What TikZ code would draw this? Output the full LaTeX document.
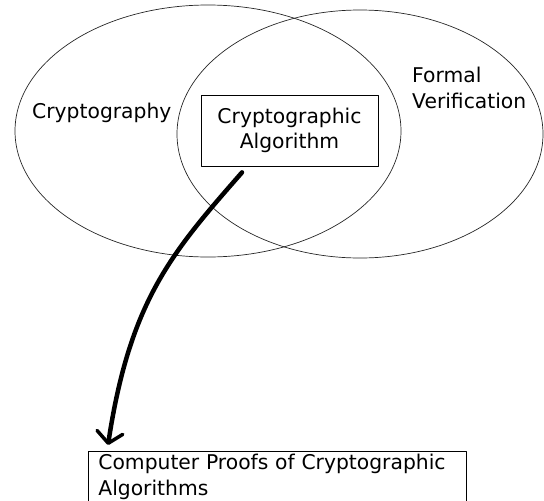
\documentclass[tikz,border=0pt]{standalone}
\usepackage{fontspec}
\setmainfont{DejaVu Sans}
\usetikzlibrary{arrows.meta}

\begin{document}
\begin{tikzpicture}
% Venn sketch in pixel units, y runs downwards
\def\unitsz{1pt}
\providecommand{\vennLineColor}{black!85}
\providecommand{\vennLineWidth}{0.7pt}
\providecommand{\boxLineWidth}{0.8pt}
\providecommand{\arrowLineWidth}{4.5pt}
\begin{scope}[x=\unitsz, y=-\unitsz, line cap=round, line join=round,
    vennlabel/.style={font=\fontsize{20.3}{25.5}\selectfont, inner sep=0pt, anchor=base west, align=left},
    textbox/.style={draw, line width=\boxLineWidth, font=\fontsize{20.3}{25.5}\selectfont}]
  \useasboundingbox (0,0) rectangle (544,501);
  % Two overlapping sets
  \begin{scope}[draw=\vennLineColor, line width=\vennLineWidth]
    \draw (208,131) ellipse [x radius=193, y radius=126];
    \draw (360,134) ellipse [x radius=183, y radius=124];
  \end{scope}
  % Set names
  \node[vennlabel] (crypto) at (32,118) {Cryptography};
  \node[vennlabel] (formal) at (412,108) {Formal\\Verification};
  % Boxes
  \node[textbox, minimum width=177, minimum height=71, align=center] (algo) at (289.5,130.5)
    {Cryptographic\\Algorithm};
  \node[textbox, anchor=north west, text width=358, inner xsep=10pt, inner ysep=3pt,
    text depth=40pt, align=left] (proofs) at (88,451)
    {\mbox{Computer Proofs of Cryptographic}\\Algorithms};
  % Hand drawn arrow
  \coordinate (arrowstart) at ([shift={(-47.5,6)}]algo.south);
  \coordinate (arrowend) at ([shift={(20,-6)}]proofs.north west);
  \draw[line width=\arrowLineWidth, -{Straight Barb[length=11pt, width=26pt, line width=3.5pt, round]}]
    (arrowstart) .. controls +(-70,80) and +(22,-145) .. (arrowend);
\end{scope}
\end{tikzpicture}
\end{document}
